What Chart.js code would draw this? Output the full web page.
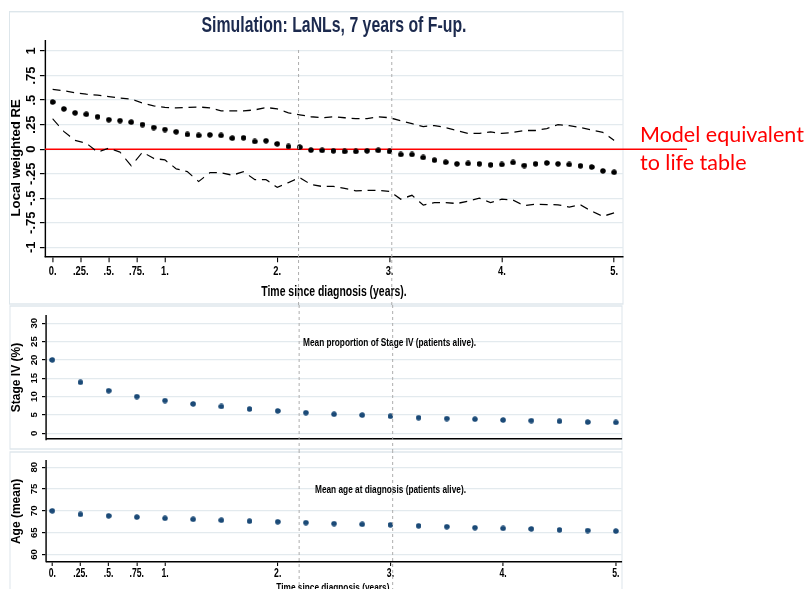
<!DOCTYPE html>
<html><head><meta charset="utf-8">
<script src="https://cdn.jsdelivr.net/npm/chart.js@4.4.1/dist/chart.umd.min.js"></script>
<style>
html,body{margin:0;padding:0;background:#fff;overflow:hidden;}
#wrap{position:relative;width:811px;height:589px;overflow:hidden;background:#fff;}
.box{position:absolute;left:0;width:1127px;}
#note{position:absolute;left:640px;top:120px;color:#ff0000;font-family:Lato,'Open Sans',sans-serif;font-size:21.5px;line-height:28px;white-space:nowrap;}
</style></head><body>
<div id="wrap">
<div class="box" style="top:0;height:305px"><canvas id="c1"></canvas></div>
<div class="box" style="top:305px;height:145px"><canvas id="c2"></canvas></div>
<div class="box" style="top:450px;height:150px"><canvas id="c3"></canvas></div>
<div id="note">Model equivalent<br>to life table</div>
</div>
<script>
// ---------------- data ----------------
const timeFine = [0,0.1,0.2,0.3,0.4,0.5,0.6,0.7,0.8,0.9,1.0,1.1,1.2,1.3,1.4,1.5,1.6,1.7,1.8,1.9,2.0,2.1,2.2,2.3,2.4,2.5,2.6,2.7,2.8,2.9,3.0,3.1,3.2,3.3,3.4,3.5,3.6,3.7,3.8,3.9,4.0,4.1,4.2,4.3,4.4,4.5,4.6,4.7,4.8,4.9,5.0];
const reEstimate = [0.48,0.41,0.37,0.355,0.33,0.30,0.29,0.275,0.25,0.22,0.20,0.177,0.15,0.14,0.146,0.14,0.112,0.115,0.078,0.085,0.054,0.027,0.02,-0.01,-0.013,-0.017,-0.024,-0.024,-0.017,-0.013,-0.024,-0.054,-0.054,-0.085,-0.112,-0.133,-0.15,-0.146,-0.15,-0.16,-0.156,-0.136,-0.167,-0.15,-0.14,-0.15,-0.156,-0.17,-0.182,-0.222,-0.236];
const reUpper = [0.61,0.595,0.575,0.56,0.55,0.535,0.52,0.51,0.47,0.44,0.425,0.42,0.425,0.43,0.42,0.39,0.39,0.39,0.40,0.425,0.41,0.37,0.35,0.33,0.32,0.33,0.32,0.31,0.31,0.33,0.32,0.29,0.26,0.23,0.24,0.22,0.19,0.16,0.16,0.175,0.16,0.17,0.19,0.19,0.21,0.25,0.24,0.22,0.195,0.17,0.09];
const reLower = [0.31,0.18,0.09,0.06,-0.03,0.01,-0.03,-0.17,-0.03,-0.095,-0.11,-0.2,-0.23,-0.33,-0.24,-0.24,-0.265,-0.23,-0.31,-0.31,-0.39,-0.34,-0.29,-0.36,-0.38,-0.38,-0.40,-0.425,-0.42,-0.42,-0.43,-0.51,-0.47,-0.57,-0.544,-0.545,-0.554,-0.53,-0.50,-0.544,-0.51,-0.52,-0.575,-0.56,-0.565,-0.567,-0.59,-0.567,-0.633,-0.684,-0.65];
const timeQuarter = [0,0.25,0.5,0.75,1,1.25,1.5,1.75,2,2.25,2.5,2.75,3,3.25,3.5,3.75,4,4.25,4.5,4.75,5];
const stageIV = [20.0,13.9,11.6,10.0,8.9,8.0,7.3,6.6,6.1,5.6,5.2,4.95,4.64,4.24,4.0,3.84,3.6,3.44,3.28,3.04,2.96];
const ageMean = [70.0,69.2,68.86,68.57,68.3,68.07,67.86,67.64,67.5,67.3,67.07,66.93,66.8,66.57,66.36,66.14,66.0,65.86,65.64,65.5,65.36];
const xTickValues = [0,0.25,0.5,0.75,1,2,3,4,5];
const xTickLabels = ['0.','.25.','.5.','.75.','1.','2.','3.','4.','5.'];
const reTickValues = [-1,-0.75,-0.5,-0.25,0,0.25,0.5,0.75,1];
const reTickLabels = ['-1','-.75','-.5','-.25','0','.25','.5','.75','1'];
const stageTicks = [0,5,10,15,20,25,30];
const ageTicks = [60,65,70,75,80];
const markerTimes = [2.19,3.02];
const referenceLevel = 0;

// ---------------- look ----------------
const S = 0.72;               // horizontal squeeze of the Stata graph
const FAM = "'Liberation Sans', Arial, Helvetica, sans-serif";
const W = 1127;
const pts = (xs, ys) => xs.map((x, i) => ({x: x, y: ys[i]}));

function dotImage(color, wFinal, h) {
  const c = document.createElement('canvas');
  const w = Math.round(wFinal / S);
  c.width = w; c.height = h;
  const g = c.getContext('2d');
  g.fillStyle = color;
  g.beginPath(); g.ellipse(w / 2, h / 2, w / 2 - 0.2, h / 2 - 0.2, 0, 0, Math.PI * 2); g.fill();
  return c;
}
const dotBlack = dotImage('#000000', 5.8, 6);
const dotBlue = dotImage('#1b4a77', 5.8, 6);

// rotated y-axis texts are drawn without the horizontal squeeze
function patchY(chart, titleDy) {
  const sc = chart.scales.y;
  if (!sc || sc.__patched) return;
  sc.__patched = true;
  const origLabels = sc.drawLabels;
  sc.drawLabels = function (area) {
    const items = this.getLabelItems(area);
    const xc = items.length ? items[0].options.translation[0] : 0;
    const ctx = this.ctx;
    ctx.save();
    ctx.setTransform(1, 0, 0, 1, (S - 1) * xc, 0);
    origLabels.call(this, area);
    ctx.restore();
  };
  const origTitle = sc.drawTitle;
  sc.drawTitle = function () {
    const t = this.options.title;
    const f = Chart.helpers.toFont(t.font);
    const xc = this.left + f.lineHeight / 2 + Chart.helpers.toPadding(t.padding).top;
    const ctx = this.ctx;
    ctx.save();
    ctx.setTransform(1, 0, 0, 1, (S - 1) * xc, titleDy || 0);
    origTitle.call(this);
    ctx.restore();
  };
}

function look(opts) {
  return {
    id: 'stataLook',
    beforeDraw(chart) {
      patchY(chart, opts.titleDy);
      const ctx = chart.ctx;
      ctx.save();
      ctx.setTransform(S, 0, 0, 1, 0, 0);
      const b = opts.border;
      ctx.save();
      ctx.strokeStyle = '#dde6eb';
      ctx.lineWidth = 1.4;
      ctx.strokeRect(b[0] / S, b[1], (b[2] - b[0]) / S, b[3] - b[1]);
      ctx.restore();
    },
    beforeDatasetsDraw(chart) {
      if (!opts.redLine) return;
      const ctx = chart.ctx, y = chart.scales.y.getPixelForValue(referenceLevel);
      ctx.save();
      ctx.strokeStyle = '#ff0000';
      ctx.lineWidth = 1.5;
      ctx.beginPath();
      ctx.moveTo(chart.chartArea.left, y);
      ctx.lineTo(opts.redLine / S, y);
      ctx.stroke();
      ctx.restore();
    },
    afterDraw(chart) {
      const ctx = chart.ctx;
      if (opts.note) {
        ctx.save();
        ctx.font = 'bold 11.5px ' + FAM;
        ctx.fillStyle = '#000';
        ctx.textAlign = 'left';
        ctx.textBaseline = 'middle';
        ctx.fillText(opts.note.text, chart.scales.x.getPixelForValue(opts.note.x), chart.scales.y.getPixelForValue(opts.note.y));
        ctx.restore();
      }
      ctx.save();
      ctx.strokeStyle = '#a8a8a8';
      ctx.lineWidth = 1.3;
      ctx.setLineDash([3, 3]);
      markerTimes.forEach(t => {
        const x = chart.scales.x.getPixelForValue(t);
        ctx.beginPath();
        ctx.moveTo(x, opts.vTop);
        ctx.lineTo(x, chart.height);
        ctx.stroke();
      });
      ctx.restore();
      ctx.restore();
    }
  };
}

function xAxis(o) {
  return {
    type: 'linear', min: o.min, max: o.max,
    afterFit: s => { s.height = o.height; },
    afterBuildTicks: s => { s.ticks = xTickValues.map(v => ({value: v})); },
    ticks: o.labels ? {autoSkip: false, maxRotation: 0, minRotation: 0, padding: o.pad,
      callback: (v, i) => xTickLabels[i], color: '#000', font: {family: FAM, size: o.font, weight: 'bold'}} : {display: false},
    grid: o.labels ? {drawOnChartArea: false, drawTicks: true, tickLength: o.tl, tickColor: '#000', tickWidth: 1.5, color: '#000'} : {display: false},
    border: {display: true, color: '#000', width: 1.5},
    title: o.title ? {display: true, text: 'Time since diagnosis (years).', color: '#000',
      font: {family: FAM, size: o.titleSize, weight: 'bold'}, padding: {top: 0, bottom: o.titlePad}} : {display: false}
  };
}

function yAxis(o) {
  return {
    type: 'linear', min: o.min, max: o.max,
    afterFit: s => { s.width = o.width; },
    afterBuildTicks: s => { s.ticks = o.values.map(v => ({value: v})); },
    ticks: {autoSkip: false, minRotation: 90, maxRotation: 90, crossAlign: 'center', padding: o.pad,
      callback: (v, i) => o.labels[i], color: '#000', font: {family: FAM, size: o.font, weight: 'bold'}},
    grid: {color: '#e3eaee', lineWidth: 1.2, tickColor: '#000', tickLength: o.tl, tickWidth: 1.2},
    border: {display: true, color: '#000', width: 2},
    title: {display: true, text: o.title, color: '#000', font: {family: FAM, size: o.titleSize, weight: 'bold'},
      padding: {top: o.titlePad, bottom: 0}}
  };
}

const common = {
  responsive: true, maintainAspectRatio: false, animation: false, events: []
};

// ---------------- top panel ----------------
new Chart(document.getElementById('c1'), {
  type: 'scatter',
  data: {datasets: [
    {data: pts(timeFine, reUpper), showLine: true, borderColor: '#000', borderWidth: 1.3, borderDash: [11, 8], pointRadius: 0, tension: 0},
    {data: pts(timeFine, reLower), showLine: true, borderColor: '#000', borderWidth: 1.3, borderDash: [11, 8], pointRadius: 0, tension: 0},
    {data: pts(timeFine, reEstimate), pointStyle: dotBlack, pointRadius: 3, showLine: false}
  ]},
  options: Object.assign({}, common, {
    layout: {padding: {left: 0, right: W - 865.3, top: 0, bottom: 0}},
    plugins: {
      legend: {display: false}, tooltip: {enabled: false},
      title: {display: true, text: 'Simulation: LaNLs, 7 years of F-up.', fullSize: false, color: '#1c2a4e',
        font: {family: FAM, size: 22, weight: 'bold'}, padding: {top: 12.5, bottom: 2.1}}
    },
    scales: {
      x: xAxis({min: -0.068, max: 5.079, height: 48.3, labels: true, pad: 1, tl: 5.5, font: 13, title: true, titleSize: 14.5, titlePad: 4.6}),
      y: yAxis({min: -1.096, max: 1.102, width: 62.5, values: reTickValues, labels: reTickLabels, pad: 0.3, tl: 7, font: 13,
        title: 'Local weighted RE', titleSize: 13.2, titlePad: 15.3})
    }
  }),
  plugins: [look({border: [9.5, 11.7, 623, 304], redLine: 687, vTop: 50, titleDy: 9})]
});

// ---------------- middle panel ----------------
new Chart(document.getElementById('c2'), {
  type: 'scatter',
  data: {datasets: [
    {data: pts(timeQuarter, stageIV), pointStyle: dotBlue, pointRadius: 3, showLine: false}
  ]},
  options: Object.assign({}, common, {
    layout: {padding: {left: 0, right: W - 863.5, top: 1.7, bottom: 0}},
    plugins: {legend: {display: false}, tooltip: {enabled: false}},
    scales: {
      x: xAxis({min: -0.053, max: 5.052, height: 3.3, labels: false, title: false}),
      y: yAxis({min: -1.6, max: 32, width: 64.3, values: stageTicks, labels: stageTicks.map(String), pad: 5.1, tl: 6, font: 9.6,
        title: 'Stage IV (%)', titleSize: 12, titlePad: 16})
    }
  }),
  plugins: [look({border: [10, 1, 622, 144], vTop: 0, titleDy: 0,
    note: {text: 'Mean proportion of Stage IV (patients alive).', x: 2.225, y: 24.7}})]
});

// ---------------- bottom panel ----------------
new Chart(document.getElementById('c3'), {
  type: 'scatter',
  data: {datasets: [
    {data: pts(timeQuarter, ageMean), pointStyle: dotBlue, pointRadius: 3, showLine: false}
  ]},
  options: Object.assign({}, common, {
    layout: {padding: {left: 0, right: W - 863.5, top: 4, bottom: 0}},
    plugins: {legend: {display: false}, tooltip: {enabled: false}},
    scales: {
      x: xAxis({min: -0.053, max: 5.052, height: 38, labels: true, pad: 0, tl: 4, font: 12, title: true, titleSize: 11.5, titlePad: 5.4}),
      y: yAxis({min: 58.29, max: 81.44, width: 64.3, values: ageTicks, labels: ageTicks.map(String), pad: 5.1, tl: 6, font: 9.6,
        title: 'Age (mean)', titleSize: 12, titlePad: 16})
    }
  }),
  plugins: [look({border: [10, 2, 622, 170], vTop: 0, titleDy: 0,
    note: {text: 'Mean age at diagnosis (patients alive).', x: 2.331, y: 74.78}})]
});
</script>
</body></html>
